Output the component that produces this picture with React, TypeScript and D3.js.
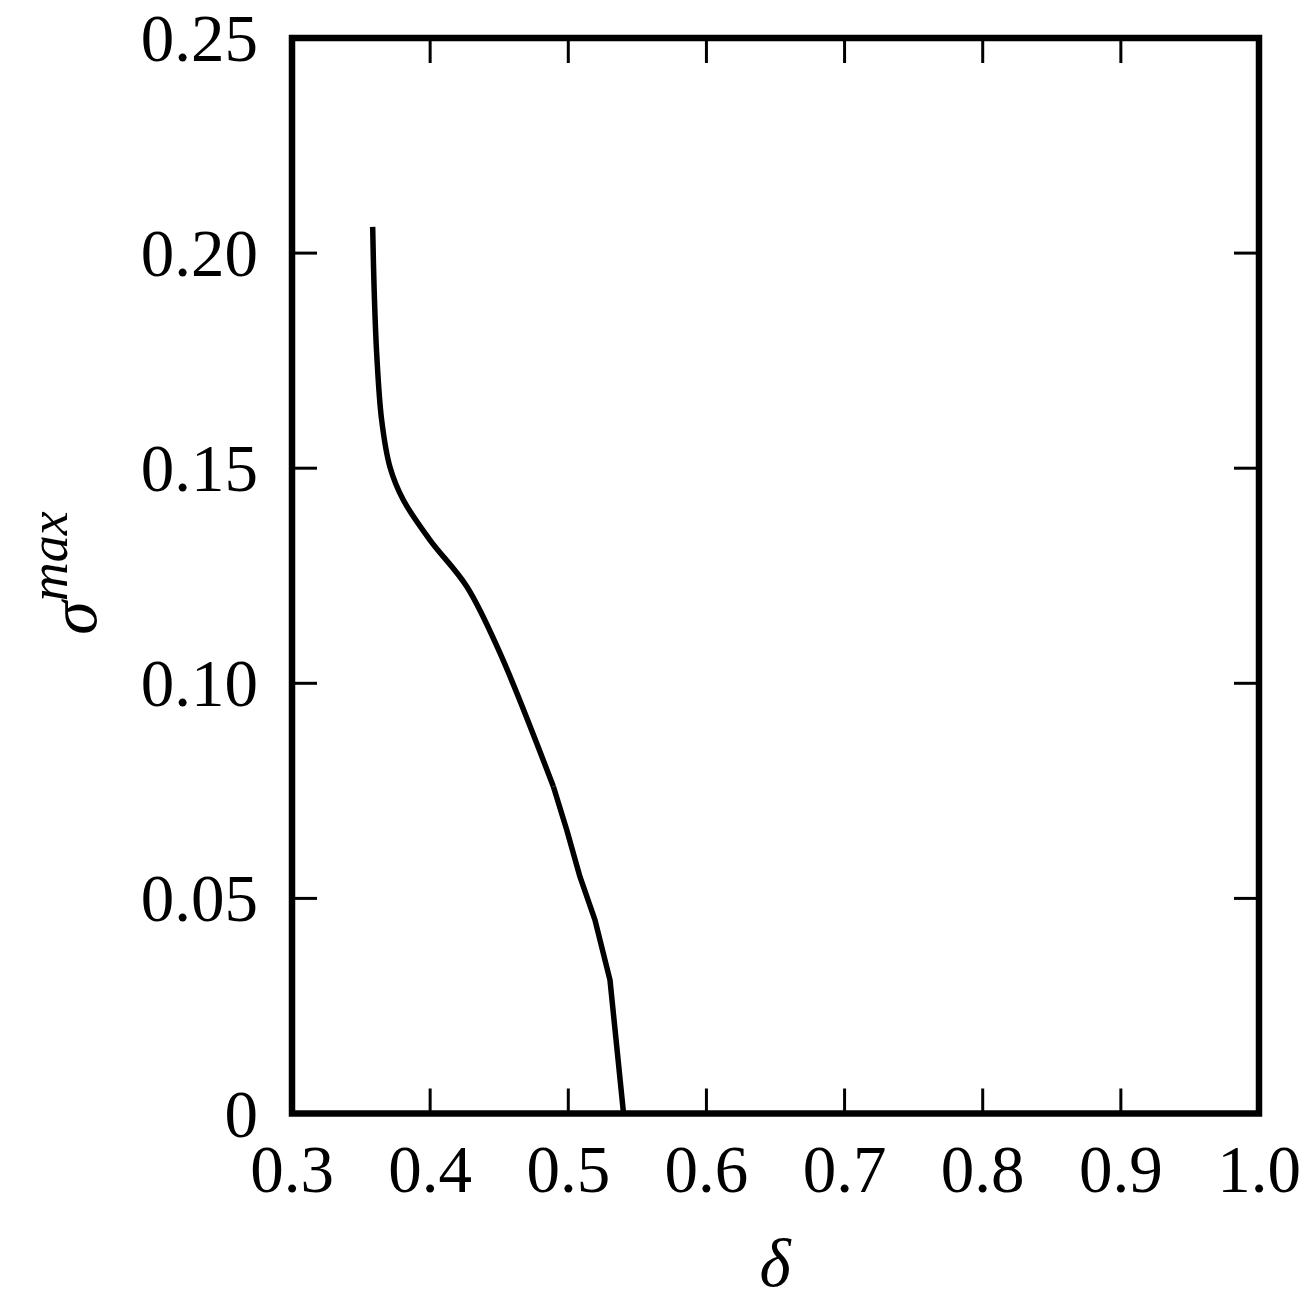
import React from "react";
import * as d3 from "d3";

// Upper, smooth part of the curve
const deltaUpper = [0.3584, 0.3594, 0.3613, 0.3649, 0.3709, 0.3806, 0.3999, 0.4265, 0.4506, 0.4892];
const sigmaUpper = [0.2061, 0.1922, 0.1767, 0.1612, 0.1503, 0.1426, 0.1333, 0.1225, 0.107, 0.076];
// Lower, piecewise-linear part of the curve
const deltaLower = [0.4892, 0.4989, 0.5085, 0.5193, 0.5302, 0.54];
const sigmaLower = [0.076, 0.0659, 0.055, 0.045, 0.031, 0.0];
const xTicks = [0.3, 0.4, 0.5, 0.6, 0.7, 0.8, 0.9, 1.0];
const yTicks = [0, 0.05, 0.1, 0.15, 0.2, 0.25];
const xTickLabels = ["0.3", "0.4", "0.5", "0.6", "0.7", "0.8", "0.9", "1.0"];
const yTickLabels = ["0", "0.05", "0.10", "0.15", "0.20", "0.25"];

export default function App() {
  const W = 1302, H = 1316;
  const x = d3.scaleLinear().domain([0.3, 1.0]).range([292, 1259]);
  const y = d3.scaleLinear().domain([0, 0.25]).range([1113.5, 38]);
  const up = deltaUpper.map((d, i) => [d, sigmaUpper[i]] as [number, number]);
  const low = deltaLower.map((d, i) => [d, sigmaLower[i]] as [number, number]);
  const smooth = d3.line<[number, number]>().x(d => x(d[0])).y(d => y(d[1])).curve(d3.curveCatmullRom.alpha(0.5));
  const straight = d3.line<[number, number]>().x(d => x(d[0])).y(d => y(d[1])).curve(d3.curveLinear);
  const font = "'Liberation Serif', 'Times New Roman', serif";
  const tickLen = 25;
  return (
    <div style={{ position: "absolute", left: 0, top: 0 }}>
      <svg width={W} height={H} style={{ display: "block", background: "#fff" }}>
        <path d={smooth(up) || ""} fill="none" stroke="#000" strokeWidth={5.5} strokeLinejoin="round" />
        <path d={straight(low) || ""} fill="none" stroke="#000" strokeWidth={5.5} strokeLinejoin="round" />
        {xTicks.slice(1, -1).map(t => (
          <g key={"xt" + t}>
            <line x1={x(t)} x2={x(t)} y1={y(0)} y2={y(0) - tickLen} stroke="#000" strokeWidth={3} />
            <line x1={x(t)} x2={x(t)} y1={y(0.25)} y2={y(0.25) + tickLen} stroke="#000" strokeWidth={3} />
          </g>
        ))}
        {yTicks.slice(1, -1).map(t => (
          <g key={"yt" + t}>
            <line x1={x(0.3)} x2={x(0.3) + tickLen} y1={y(t)} y2={y(t)} stroke="#000" strokeWidth={3} />
            <line x1={x(1.0)} x2={x(1.0) - tickLen} y1={y(t)} y2={y(t)} stroke="#000" strokeWidth={3} />
          </g>
        ))}
        <rect x={x(0.3)} y={y(0.25)} width={x(1.0) - x(0.3)} height={y(0) - y(0.25)} fill="none" stroke="#000" strokeWidth={6.5} />
        {xTicks.map((t, i) => (
          <text key={"xl" + t} x={x(t)} y={1192} textAnchor="middle" fontFamily={font} fontSize={67}>{xTickLabels[i]}</text>
        ))}
        {yTicks.map((t, i) => (
          <text key={"yl" + t} x={258} y={y(t) + 23} textAnchor="end" fontFamily={font} fontSize={67}>{yTickLabels[i]}</text>
        ))}
        <text x={775} y={1286} textAnchor="middle" fontFamily={font} fontStyle="italic" fontSize={67}>δ</text>
        <text transform="translate(96,573) rotate(-90)" textAnchor="middle" fontFamily={font} fontStyle="italic" fontSize={68}>
          σ<tspan fontSize={54} dy={-29}>max</tspan>
        </text>
      </svg>
    </div>
  );
}
